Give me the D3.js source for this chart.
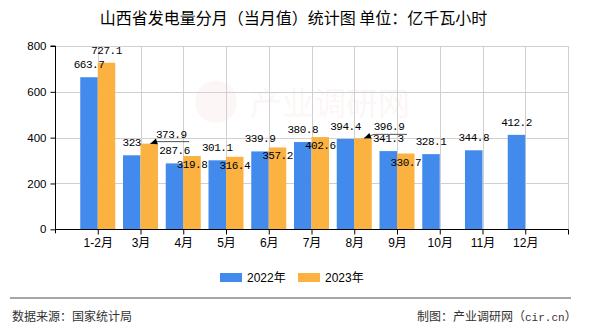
<!DOCTYPE html>
<html><head><meta charset="utf-8">
<script src="https://cdn.jsdelivr.net/npm/d3@7"></script>
<style>
html,body{margin:0;padding:0;background:#fff;}
svg{display:block;}
text{font-family:"Liberation Sans","Noto Sans CJK SC",sans-serif;}
</style></head>
<body>
<svg id="chart" width="590" height="330"></svg>
<script>
// ---- data ----
const categories = ["1-2月","3月","4月","5月","6月","7月","8月","9月","10月","11月","12月"];
const seriesNames = ["2022年","2023年"];
const values2022 = [663.7,323,287.6,301.1,339.9,380.8,394.4,341.3,328.1,344.8,412.2];
const values2023 = [727.1,373.9,319.8,316.4,357.2,402.6,396.9,330.7,null,null,null];
const yTicks = [0,200,400,600,800];
const titleText = "山西省发电量分月（当月值）统计图 单位：亿千瓦小时";
const sourceText = "数据来源：国家统计局";
const creditMain = "制图：产业调研网";
const creditSite = "cir.cn";

// ---- layout / style ----
const colors = ["#428BEC","#FBB240"];
const plot = {left:55, right:568, top:46, bottom:229.3};
// label displacement for overlapping labels (layout only)
const labelMove = {"1-1":{dx:22,dy:3,leader:true},"1-2":{dy:21},"1-3":{dy:21},"1-4":{dy:21},
                   "1-5":{dy:21},"1-6":{dx:26,dy:1,leader:true},"1-7":{dy:21}};

const svg = d3.select("#chart");

const x = d3.scalePoint().domain(categories).range([plot.left, plot.right]).padding(1);
const xSub = d3.scaleBand().domain([0,1]).range([-17.5,17.5]).padding(0);
const y = d3.scaleLinear().domain([0,800]).range([plot.bottom, plot.top]);

// title
svg.append("text").attr("x",293.5).attr("y",23.5).attr("text-anchor","middle")
  .style("font-family","'Noto Sans CJK SC',sans-serif").style("font-size","16px")
  .attr("fill","#000").text(titleText);

// watermark
const wm = svg.append("g").attr("opacity",0.04);
wm.append("circle").attr("cx",216).attr("cy",102).attr("r",21).attr("fill","#d33");
wm.append("text").attr("x",250).attr("y",115).style("font-family","'Noto Sans CJK SC',sans-serif")
  .style("font-size","32px").attr("fill","#d33").text("产业调研网");

// grid
const g = svg.append("g");
g.selectAll(".hg").data(yTicks.slice(1)).join("line")
  .attr("x1",plot.left).attr("x2",plot.right)
  .attr("y1",d=>Math.round(y(d))+0.5).attr("y2",d=>Math.round(y(d))+0.5)
  .attr("stroke","#d0d0d0").attr("stroke-width",1);
const vlines = categories.map(c=>x(c)).concat([plot.right]);
g.selectAll(".vg").data(vlines).join("line")
  .attr("x1",d=>Math.round(d)+0.5).attr("x2",d=>Math.round(d)+0.5)
  .attr("y1",plot.top).attr("y2",plot.bottom)
  .attr("stroke","#d0d0d0").attr("stroke-width",1);

// bars
const series = [values2022, values2023];
series.forEach((vals,si)=>{
  svg.append("g").selectAll("rect").data(vals.map((v,i)=>({v,i})).filter(d=>d.v!=null))
    .join("rect")
    .attr("x",d=>x(categories[d.i])+xSub(si))
    .attr("width",xSub.bandwidth())
    .attr("y",d=>y(d.v))
    .attr("height",d=>plot.bottom-y(d.v))
    .attr("fill",colors[si]);
});

// y axis
const yAxis = d3.axisLeft(y).tickValues(yTicks).tickSize(5).tickPadding(4);
const ya = svg.append("g").attr("transform",`translate(${plot.left+0.5},0)`).call(yAxis);
ya.select(".domain").attr("d",`M-5,${plot.top}H0V${plot.bottom+4}`).attr("stroke","#000");
ya.selectAll(".tick line").attr("stroke","#000");
ya.selectAll(".tick text").style("font-size","11.5px").attr("fill","#000")
  .style("font-family","'Liberation Sans',sans-serif");

// x axis
const xAxis = d3.axisBottom(x).tickSize(5).tickPadding(4).tickSizeOuter(0);
const xa = svg.append("g").attr("transform",`translate(0,${Math.round(plot.bottom)+0.5})`).call(xAxis);
xa.select(".domain").attr("d",`M${plot.left},0H${plot.right+0.5}`).attr("stroke","#000");
xa.selectAll(".tick line").attr("stroke","#000");
xa.selectAll(".tick text").style("font-size","12px").attr("fill","#000")
  .style("font-family","'Liberation Sans','Noto Sans CJK SC',sans-serif");
xa.append("line").attr("x1",plot.right+0.5).attr("x2",plot.right+0.5).attr("y1",0).attr("y2",5).attr("stroke","#000");

// value labels
const lab = svg.append("g");
series.forEach((vals,si)=>{
  vals.forEach((v,i)=>{
    if(v==null) return;
    const cx = x(categories[i])+xSub(si)+xSub.bandwidth()/2;
    const top = y(v);
    const mv = labelMove[si+"-"+i] || {};
    const lx = cx + (mv.dx||0), ly = top - 9 + (mv.dy||0);
    lab.append("text").attr("x",lx).attr("y",ly).attr("text-anchor","middle")
      .style("font-family","'Liberation Mono',monospace").style("font-size","11px")
      .style("letter-spacing","-0.5px").attr("fill","#000").text(String(v));
    if(mv.leader){
      const w = 30, uy = ly + 4;
      const left = lx - w/2, right = lx + w/2 + 3;
      lab.append("path").attr("d",`M${cx+1},${top}L${left},${uy}H${right}`)
        .attr("fill","none").attr("stroke","#555").attr("stroke-width",1);
      const ang = Math.atan2(uy-top, left-(cx+1));
      const L=7, W=3;
      const tipx=cx+1, tipy=top;
      const bx = tipx + L*Math.cos(ang), by = tipy + L*Math.sin(ang);
      const px = -Math.sin(ang)*W, py = Math.cos(ang)*W;
      lab.append("path").attr("d",`M${tipx},${tipy}L${bx+px},${by+py}L${bx-px},${by-py}Z`).attr("fill","#000");
    }
  });
});

// legend
const leg = svg.append("g");
const legX = [220, 298];
seriesNames.forEach((n,i)=>{
  leg.append("rect").attr("x",legX[i]).attr("y",273).attr("width",22).attr("height",9).attr("fill",colors[i]);
  leg.append("text").attr("x",legX[i]+27).attr("y",281.5).style("font-size","12px")
    .style("font-family","'Liberation Sans','Noto Sans CJK SC',sans-serif").attr("fill","#000").text(n);
});

// footer
svg.append("line").attr("x1",10).attr("x2",571).attr("y1",298).attr("y2",298)
  .attr("stroke","#888").attr("stroke-width",1.5);
svg.append("text").attr("x",12).attr("y",321).style("font-size","12px")
  .style("font-family","'Noto Sans CJK SC',sans-serif").attr("fill","#333").text(sourceText);
const cr = svg.append("text").attr("x",417).attr("y",321).style("font-size","12px")
  .style("font-family","'Noto Sans CJK SC',sans-serif").attr("fill","#333");
cr.append("tspan").text(creditMain + "（");
cr.append("tspan").style("font-family","'Liberation Mono',monospace").style("font-size","11px").text(creditSite);
cr.append("tspan").text("）");
</script>
</body></html>
